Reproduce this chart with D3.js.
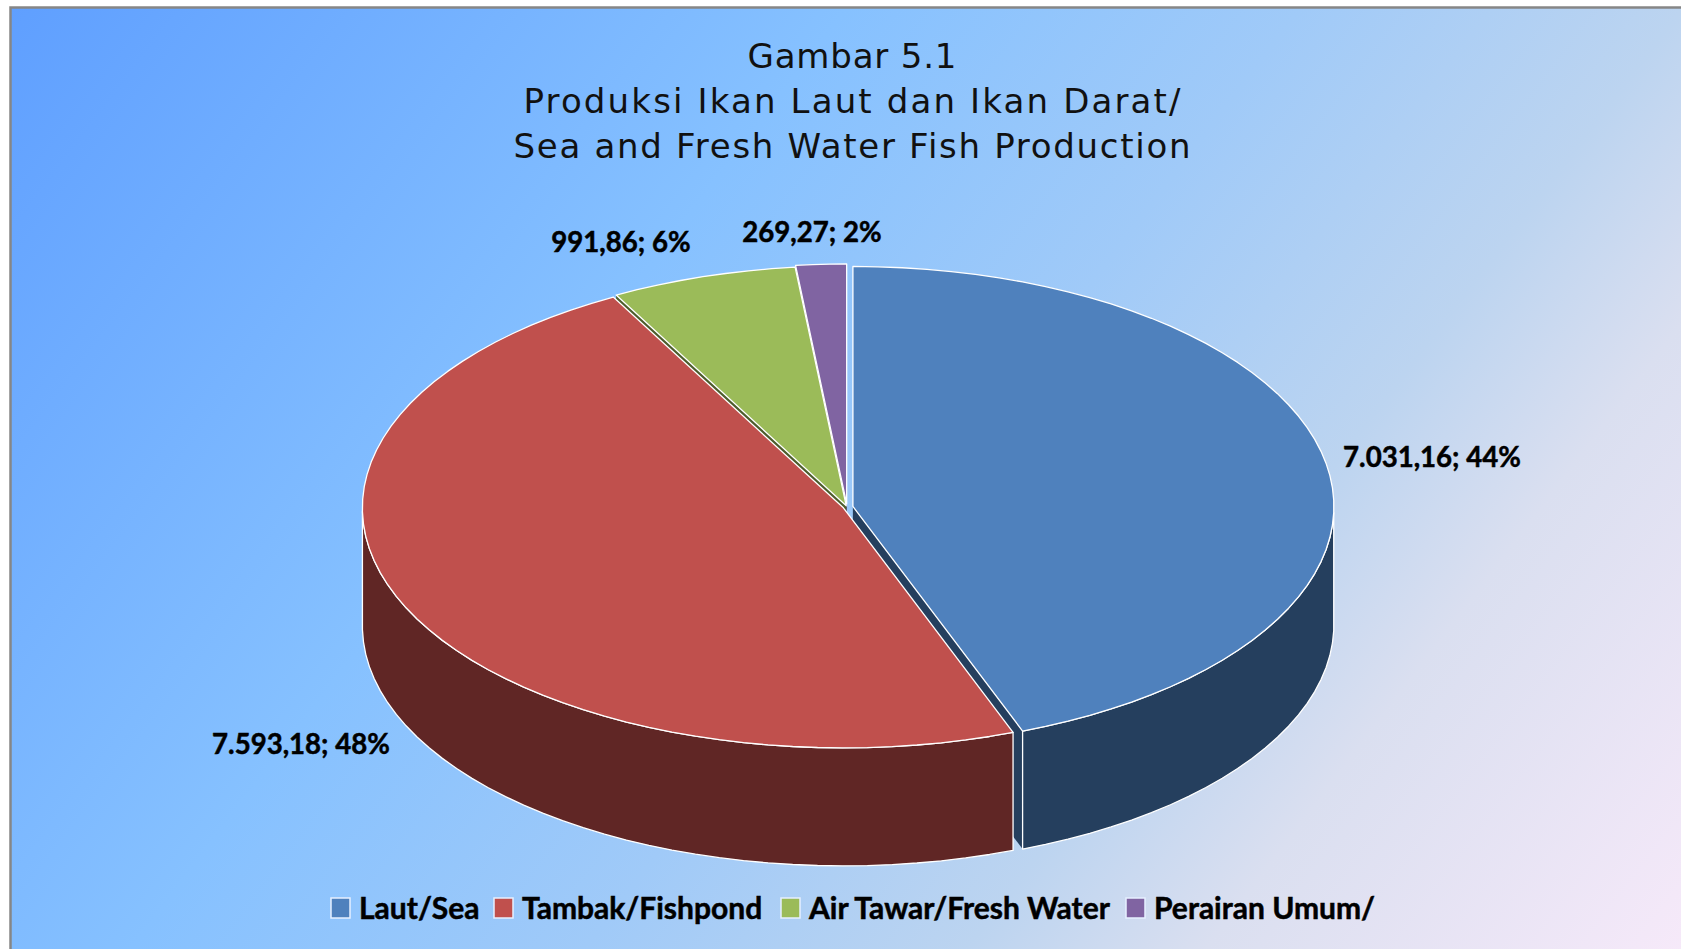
<!DOCTYPE html>
<html><head><meta charset="utf-8">
<script src="https://cdn.jsdelivr.net/npm/d3@7/dist/d3.min.js"></script>
<style>html,body{margin:0;padding:0;background:#fff;overflow:hidden}svg{display:block}</style>
</head><body><svg id="c" width="1681" height="949"></svg>
<script>
const titleLines = ["Gambar 5.1","Produksi Ikan Laut dan Ikan Darat/","Sea and Fresh Water Fish Production"];
const categories = ["Laut/Sea","Tambak/Fishpond","Air Tawar/Fresh Water","Perairan Umum/"];
const values = [7031.16,7593.18,991.86,269.27];
const valueLabels = ["7.031,16; 44%","7.593,18; 48%","991,86; 6%","269,27; 2%"];
const topColors = ["#4f81bd","#c0504d","#9bbb59","#8064a2"];
const sideColors = ["#253f5e","#602625","#4d5d2c","#403151"];
const explode = [6,4,2.5,6];

const svg = d3.select("#c");
const W=1681,H=949;
const defs = svg.append("defs");
const g = defs.append("linearGradient").attr("id","bg").attr("gradientUnits","userSpaceOnUse")
  .attr("x1",11).attr("y1",8).attr("x2",1524).attr("y2",1159);
[[0,"#5f9fff"],[0.35,"#86c1ff"],[0.54,"#a0caf8"],[0.7,"#bcd4f0"],[0.8,"#dadff0"],[1,"#f6e9f9"]].forEach(s=>g.append("stop").attr("offset",s[0]).attr("stop-color",s[1]));
svg.append("rect").attr("x",10.5).attr("y",7.5).attr("width",W+20).attr("height",H+20).attr("fill","url(#bg)").attr("stroke","#868686").attr("stroke-width",2.5);

// pie in its own plane, projected flat with an elliptical squash
const cx=847, cy=507, rx=481, ry=240, depth=118;
const pie = d3.pie().sort(null).value(d=>d)(values);
const px = a=>Math.sin(a)*rx, py = a=>-Math.cos(a)*ry;
const slices = pie.map((d,i)=>{
  const mid=(d.startAngle+d.endAngle)/2;
  return {i,a0:d.startAngle,a1:d.endAngle,ox:cx+Math.sin(mid)*explode[i],oy:cy-Math.cos(mid)*explode[i]*0.5};
});
const arcPts=(s,step=Math.PI/60)=>{const n=Math.max(2,Math.ceil((s.a1-s.a0)/step));
  return d3.range(n+1).map(k=>{const a=s.a0+(s.a1-s.a0)*k/n;return [s.ox+px(a),s.oy+py(a)];});};
const line=d3.line();
const layer=svg.append("g");
// cut faces seen through the gaps between slices
[[3,"a0"],[2,"a0"],[0,"a1"]].forEach(([i,edge])=>{
  const s=slices[i], a=s[edge], e=[s.ox+px(a),s.oy+py(a)];
  layer.append("path").attr("d",line([[s.ox,s.oy],e,[e[0],e[1]+depth],[s.ox,s.oy+depth]])+"Z").attr("fill",sideColors[i]);
});
[3,2,0,1].forEach(i=>{
  const s=slices[i], pts=arcPts(s);
  const vis=pts.filter((p,k)=>{const a=s.a0+(s.a1-s.a0)*k/(pts.length-1);return Math.cos(a)<=0.02;});
  if(vis.length>1){
    const poly=vis.concat(vis.slice().reverse().map(p=>[p[0],p[1]+depth]));
    layer.append("path").attr("d",line(poly)+"Z").attr("fill",sideColors[i]).attr("stroke","#fff").attr("stroke-width",1.3).attr("stroke-linejoin","round");
  }
});
// top faces
[3,2,0,1].forEach(i=>{
  const s=slices[i];
  layer.append("path").attr("d",line([[s.ox,s.oy],...arcPts(s)])+"Z").attr("fill",topColors[i]).attr("stroke","#fff").attr("stroke-width",1.3).attr("stroke-linejoin","round");
});

// text
const titleY=[56,101,146], titleW=[209,657,677];
svg.append("g").selectAll("text").data(titleLines).join("text")
  .attr("x",852).attr("y",(d,i)=>titleY[i]).attr("dy","0.35em").attr("text-anchor","middle")
  .attr("textLength",(d,i)=>titleW[i]).attr("lengthAdjust","spacing")
  .attr("font-family","DejaVu Sans").attr("font-size",34).attr("fill","#111").text(d=>d);
const labelPos=[[1432,457],[301,744],[621,242],[812,232]];
svg.append("g").selectAll("text").data(valueLabels).join("text")
  .attr("x",(d,i)=>labelPos[i][0]).attr("y",(d,i)=>labelPos[i][1]).attr("dy","0.35em").attr("text-anchor","middle")
  .attr("font-family","Lato").attr("font-weight",700).attr("font-size",27.6).attr("stroke","#000").attr("stroke-width",0.5).attr("fill","#000").text(d=>d);
const legendX=[331,494,781,1126];
const lg=svg.append("g").selectAll("g").data(categories).join("g").attr("transform",(d,i)=>`translate(${legendX[i]},898)`);
lg.append("rect").attr("width",19).attr("height",20).attr("fill",(d,i)=>topColors[i]).attr("stroke","#e6f0ff").attr("stroke-width",1.5);
lg.append("text").attr("x",28).attr("y",10).attr("dy","0.35em").attr("font-family","Lato").attr("font-weight",700).attr("font-size",30).attr("stroke","#000").attr("stroke-width",0.5).attr("fill","#000").text(d=>d);
</script></body></html>
